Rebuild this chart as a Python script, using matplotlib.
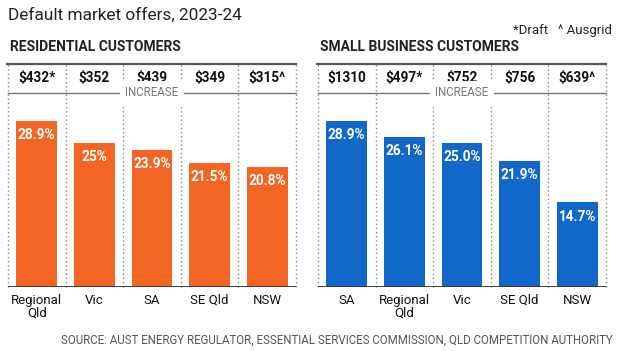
import matplotlib.pyplot as plt
from matplotlib.lines import Line2D

plt.rcParams['font.family'] = ['Roboto', 'DejaVu Sans']

res_states = ["Regional\nQld", "Vic", "SA", "SE Qld", "NSW"]
res_prices = ["$432*", "$352", "$439", "$349", "$315^"]
res_increase = [28.9, 25.0, 23.9, 21.5, 20.8]
res_labels = ["28.9%", "25%", "23.9%", "21.5%", "20.8%"]

biz_states = ["SA", "Regional\nQld", "Vic", "SE Qld", "NSW"]
biz_prices = ["$1310", "$497*", "$752", "$756", "$639^"]
biz_increase = [28.9, 26.1, 25.0, 21.9, 14.7]
biz_labels = ["28.9%", "26.1%", "25.0%", "21.9%", "14.7%"]

ORANGE = "#f26522"
BLUE = "#1168c8"

W, H = 620, 351
BASE = 287   # baseline, px from top
TOP = 64     # top rule, px from top
PX_PER_PCT = 5.75


def fy(py):
    return 1 - py / H


def ay(py):
    # pixel row -> axes fraction
    return (BASE - py) / (BASE - TOP)


fig = plt.figure(figsize=(W / 100, H / 100), dpi=100)


def panel(left_px, header, states, prices, values, labels, color):
    ax = fig.add_axes([left_px / W, 1 - BASE / H, 288 / W, (BASE - TOP) / H])
    ax.set_xlim(0, 5)
    ax.set_ylim(0, (BASE - TOP) / PX_PER_PCT)
    for s in ax.spines.values():
        s.set_visible(False)

    centers = [i + 0.5 for i in range(len(values))]
    ax.bar(centers, values, width=0.71, color=color, zorder=2)

    for x, v, lab in zip(centers, values, labels):
        ax.annotate(lab, (x, v), xytext=(0, -13), textcoords="offset points",
                    ha="center", va="baseline", color="white",
                    fontsize=9.8, fontweight="bold", zorder=3)

    # dotted column dividers
    for x in range(6):
        ax.plot([x, x], [0, ay(TOP)], transform=ax.get_xaxis_transform(),
                color="#888888", lw=1.0, ls=(0, (1, 2)), zorder=1, clip_on=False)

    # top rule and baseline
    ax.add_line(Line2D([-0.02, 5], [1, 1], transform=ax.get_xaxis_transform(),
                       color="#555555", lw=1.6, clip_on=False))
    ax.axhline(0, color="#333333", lw=1.3, zorder=3)

    # prices row
    for x, p in zip(centers, prices):
        ax.text(x, ay(82), p, transform=ax.get_xaxis_transform(), ha="center",
                va="baseline", fontsize=9.8, fontweight="bold", color="#111111")

    # increase rule
    ax.add_line(Line2D([0, 5], [ay(93), ay(93)], transform=ax.get_xaxis_transform(),
                       color="#777777", lw=1.0, clip_on=False))
    ax.text(2.5, ay(93), "INCREASE", transform=ax.get_xaxis_transform(),
            ha="center", va="center", fontsize=8.3, color="#777777",
            bbox=dict(boxstyle="square,pad=0.5", fc="white", ec="none"))

    ax.set_xticks(centers)
    ax.set_xticklabels(states, fontsize=9.5, color="#111111", linespacing=0.95)
    ax.tick_params(axis="x", length=0, pad=5)
    ax.set_yticks([])

    fig.text((left_px + 2) / W, fy(51), header, fontsize=10, fontweight="bold",
             color="#222222", va="baseline", ha="left")
    return ax


panel(8, "RESIDENTIAL CUSTOMERS", res_states, res_prices, res_increase, res_labels, ORANGE)
panel(318, "SMALL BUSINESS CUSTOMERS", biz_states, biz_prices, biz_increase, biz_labels, BLUE)

fig.text(8 / W, fy(19.5), "Default market offers, 2023-24", fontsize=12.4,
         color="#222222", va="baseline", ha="left")
fig.text(612 / W, fy(34), "*Draft   ^ Ausgrid", fontsize=9.5, color="#222222",
         va="baseline", ha="right")
fig.text(613 / W, fy(344),
         "SOURCE: AUST ENERGY REGULATOR, ESSENTIAL SERVICES COMMISSION, QLD COMPETITION AUTHORITY",
         fontsize=8.3, color="#555555", va="baseline", ha="right")

fig.savefig("out.png", dpi=100)
